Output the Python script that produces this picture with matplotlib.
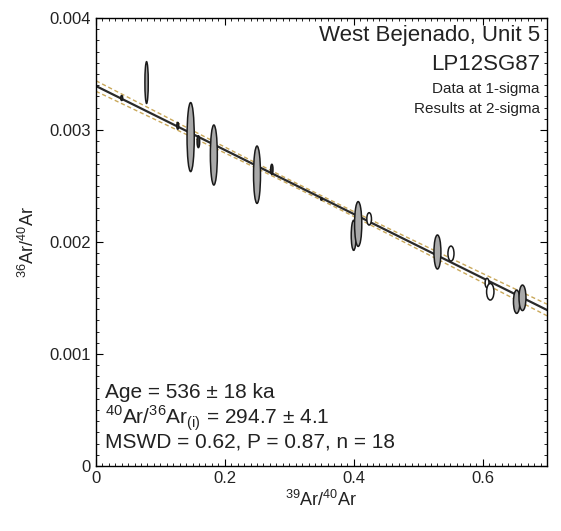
import numpy as np
import matplotlib.pyplot as plt
from matplotlib.patches import Ellipse
from matplotlib.ticker import MultipleLocator

plt.rcParams['font.family'] = ['Liberation Sans', 'DejaVu Sans']
plt.rcParams['mathtext.fontset'] = 'custom'
plt.rcParams['mathtext.rm'] = 'Liberation Sans'

# isochron data (1-sigma ellipse half-axes)
x_val = [0.040, 0.0786, 0.127, 0.147, 0.159, 0.183, 0.250, 0.273, 0.350,
         0.400, 0.407, 0.424, 0.530, 0.551, 0.607, 0.612, 0.653, 0.662]
y_val = [3.286e-3, 3.424e-3, 3.038e-3, 2.937e-3, 2.896e-3, 2.777e-3, 2.601e-3, 2.649e-3, 2.384e-3,
         2.060e-3, 2.161e-3, 2.207e-3, 1.911e-3, 1.897e-3, 1.634e-3, 1.556e-3, 1.467e-3, 1.502e-3]
x_err = [0.0015, 0.0026, 0.0015, 0.0056, 0.0020, 0.0054, 0.0054, 0.0018, 0.0012,
         0.0038, 0.0056, 0.0036, 0.0054, 0.0047, 0.0030, 0.0057, 0.0050, 0.0054]
y_err = [0.022e-3, 0.186e-3, 0.030e-3, 0.308e-3, 0.053e-3, 0.268e-3, 0.256e-3, 0.045e-3, 0.010e-3,
         0.134e-3, 0.200e-3, 0.055e-3, 0.152e-3, 0.067e-3, 0.042e-3, 0.074e-3, 0.104e-3, 0.114e-3]
fill = ['dark', 'gray', 'dark', 'gray', 'dark', 'gray', 'gray', 'dark', 'dark',
        'gray', 'gray', 'open', 'gray', 'open', 'open', 'open', 'gray', 'gray']

# regression results
ar_init = 294.7
intercept = 1 / ar_init
slope = -2.857e-3
env_min = 0.020e-3
env_slope = 0.129e-3
env_center = 0.33

colors = {'gray': '#a9a9a9', 'dark': '#3a3a3a', 'open': 'white'}

fig = plt.figure(figsize=(5.61, 5.31), dpi=100)
ax = fig.add_axes([0.171, 0.1224, 0.804, 0.8436])

xs = np.linspace(0, 0.7, 200)
ys = intercept + slope * xs
env = np.sqrt(env_min ** 2 + (env_slope * (xs - env_center)) ** 2)
ax.plot(xs, ys + env, color='#c9a85a', lw=1, ls=(0, (3, 2)), zorder=1)
ax.plot(xs, ys - env, color='#c9a85a', lw=1, ls=(0, (3, 2)), zorder=1)

for i in range(len(x_val)):
    e = Ellipse((x_val[i], y_val[i]), 2 * x_err[i], 2 * y_err[i],
                facecolor=colors[fill[i]], edgecolor='#1a1a1a', lw=1.1, zorder=3)
    ax.add_patch(e)

ax.plot(xs, ys, color='#2a2a2a', lw=1.6, zorder=2)

ax.set_xlim(0, 0.7)
ax.set_ylim(0, 0.004)
ax.set_xticks([0, 0.2, 0.4, 0.6])
ax.set_xticklabels(['0', '0.2', '0.4', '0.6'])
ax.set_yticks([0, 0.001, 0.002, 0.003, 0.004])
ax.set_yticklabels(['0', '0.001', '0.002', '0.003', '0.004'])
ax.xaxis.set_minor_locator(MultipleLocator(0.01))
ax.yaxis.set_minor_locator(MultipleLocator(0.0001))
ax.tick_params(which='both', direction='in', top=True, right=True, labelsize=12,
               labelcolor='#222')
ax.tick_params(which='major', length=5)
ax.tick_params(which='minor', length=2.5)
for s in ax.spines.values():
    s.set_linewidth(1)

ax.set_xlabel('$^{39}$Ar/$^{40}$Ar', fontsize=13, labelpad=3, color='#222')
ax.set_ylabel('$^{36}$Ar/$^{40}$Ar', fontsize=13, labelpad=8, color='#222')

ax.text(0.984, 0.985, 'West Bejenado, Unit 5', transform=ax.transAxes,
        ha='right', va='top', fontsize=16, color='#222')
ax.text(0.984, 0.92, 'LP12SG87', transform=ax.transAxes,
        ha='right', va='top', fontsize=16, color='#222')
ax.text(0.984, 0.858, 'Data at 1-sigma', transform=ax.transAxes,
        ha='right', va='top', fontsize=11, color='#222')
ax.text(0.984, 0.812, 'Results at 2-sigma', transform=ax.transAxes,
        ha='right', va='top', fontsize=11, color='#222')

ax.text(0.02, 0.163, 'Age = 536 \u00b1 18 ka', transform=ax.transAxes,
        ha='left', va='center', fontsize=15, color='#222')
ax.text(0.02, 0.107, '$^{40}$Ar/$^{36}$Ar$_{(\\mathrm{i})}$ = 294.7 \u00b1 4.1',
        transform=ax.transAxes, ha='left', va='center', fontsize=15, color='#222')
ax.text(0.02, 0.054, 'MSWD = 0.62, P = 0.87, n = 18', transform=ax.transAxes,
        ha='left', va='center', fontsize=15, color='#222')

fig.savefig('out.png', dpi=100)
